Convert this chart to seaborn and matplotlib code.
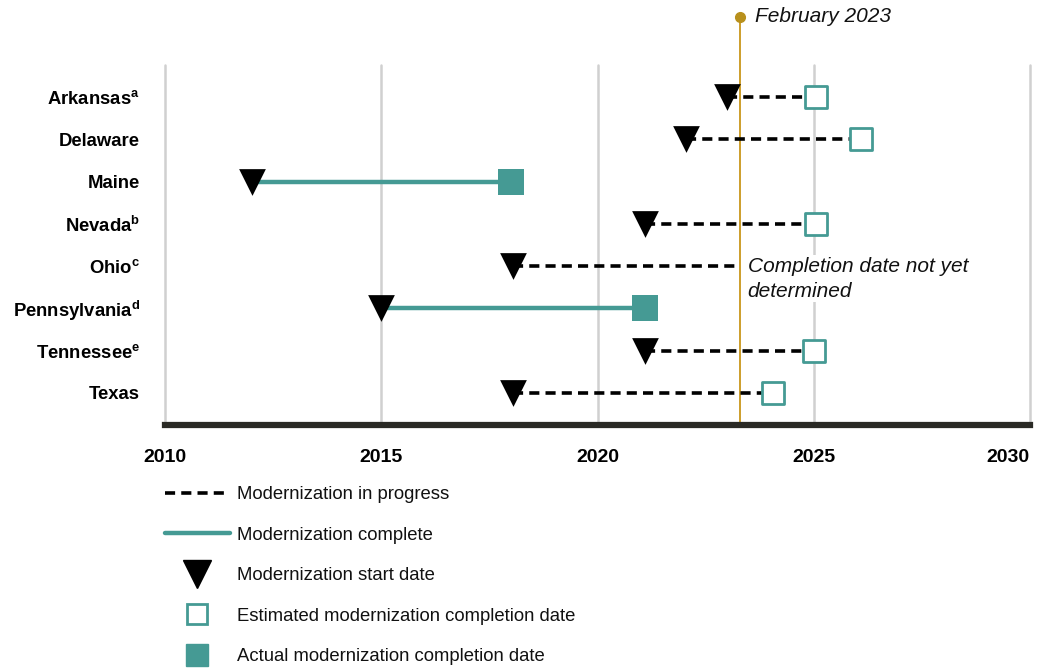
import numpy as np
import pandas as pd
import matplotlib
matplotlib.use("Agg")
import matplotlib.pyplot as plt
from matplotlib.lines import Line2D
import seaborn as sns

# data
states = ["Arkansas", "Delaware", "Maine", "Nevada", "Ohio", "Pennsylvania", "Tennessee", "Texas"]
notes = ["a", "", "", "b", "c", "d", "e", ""]
start_year = [2023.0, 2022.05, 2012.0, 2021.1, 2018.05, 2015.0, 2021.1, 2018.05]
end_year = [2025.05, 2026.1, 2018.0, 2025.05, np.nan, 2021.1, 2025.0, 2024.05]
status = ["progress", "progress", "complete", "progress", "progress", "complete", "progress", "progress"]
feb_2023 = 2023.3
year_ticks = [2010, 2015, 2020, 2025, 2030]

TEAL = "#459a94"
GOLD = "#c9961a"
GRID = "#d0d0d0"

sns.set_theme(style="white")
plt.rcParams["font.family"] = ["Liberation Sans", "DejaVu Sans"]
plt.rcParams["text.color"] = "black"
plt.rcParams["mathtext.fontset"] = "custom"
plt.rcParams["mathtext.bf"] = "Liberation Sans:bold"
plt.rcParams["mathtext.rm"] = "Liberation Sans"

df = pd.DataFrame({"state": states, "start": start_year, "end": end_year, "status": status})
df["row"] = np.arange(len(df))
# Ohio has no completion date: dashed line runs to the February 2023 line
df["line_end"] = df["end"].fillna(feb_2023)

fig = plt.figure(figsize=(10.45, 6.68), dpi=100)
ax = fig.add_axes([0.158, 0.3638, 0.8276, 0.5389])

ax.set_xlim(2010, 2030)
ax.set_ylim(len(states) - 1 + 0.76, -0.76)

for yr in year_ticks:
    ax.axvline(yr, color=GRID, lw=1.8, zorder=0, clip_on=False)

# february 2023 marker line
ax.plot([feb_2023, feb_2023], [-1.9, len(states) - 1 + 0.76], color=GOLD, lw=1.3,
        clip_on=False, zorder=1)
ax.plot([feb_2023], [-1.9], "o", color="#b8901c", ms=7, clip_on=False, zorder=2)
ax.text(feb_2023 + 0.35, -1.9, "February 2023", style="italic", fontsize=15,
        va="center", ha="left", color="#111111")

for _, r in df.iterrows():
    if r["status"] == "progress":
        ax.plot([r["start"], r["line_end"]], [r["row"], r["row"]], color="black", lw=2.6,
                dashes=(2.8, 1.7), zorder=3)
    else:
        ax.plot([r["start"], r["line_end"]], [r["row"], r["row"]], color=TEAL, lw=3.2, zorder=3)

sns.scatterplot(data=df, x="start", y="row", marker="v", s=370, color="black",
                edgecolor="black", linewidth=0, ax=ax, zorder=5, legend=False)
est = df[(df["status"] == "progress") & df["end"].notna()]
sns.scatterplot(data=est, x="end", y="row", marker="s", s=230, color="white",
                edgecolor=TEAL, linewidth=2, ax=ax, zorder=5, legend=False)
act = df[df["status"] == "complete"]
sns.scatterplot(data=act, x="end", y="row", marker="s", s=330, color=TEAL,
                edgecolor=TEAL, linewidth=0, ax=ax, zorder=5, legend=False)

ohio = df[df["state"] == "Ohio"].iloc[0]
ax.text(feb_2023 + 0.17, ohio["row"] - 0.22, "Completion date not yet\ndetermined", style="italic",
        fontsize=15, va="top", ha="left", color="#111111", linespacing=1.4,
        bbox=dict(facecolor="white", edgecolor="none", pad=1), zorder=4)

labels = [s + (r"$^\mathbf{" + n + "}$" if n else "") for s, n in zip(states, notes)]
ax.set_yticks(df["row"])
ax.set_yticklabels(labels, fontsize=13.3, fontweight="bold", color="black")
ax.set_xticks(year_ticks)
ax.set_xticklabels([str(y) for y in year_ticks], fontsize=14, fontweight="bold", color="black")
ax.get_xticklabels()[-1].set_horizontalalignment("right")
ax.get_xticklabels()[-1].set_x(2030.15)
ax.tick_params(axis="y", length=0, pad=18)
ax.tick_params(axis="x", length=0, pad=17)
ax.set_xlabel("")
ax.set_ylabel("")

for side in ["top", "right", "left"]:
    ax.spines[side].set_visible(False)
ax.spines["bottom"].set_color("#2a2a25")
ax.spines["bottom"].set_linewidth(4.5)
ax.spines["bottom"].set_zorder(6)

handles = [
    Line2D([], [], color="black", lw=2.6, dashes=(2.8, 1.7)),
    Line2D([], [], color=TEAL, lw=3.2),
    Line2D([], [], color="black", marker="v", ms=20, lw=0),
    Line2D([], [], color="white", marker="s", ms=14, mec=TEAL, mew=2, lw=0),
    Line2D([], [], color=TEAL, marker="s", ms=16, lw=0),
]
legend_labels = ["Modernization in progress", "Modernization complete",
                 "Modernization start date", "Estimated modernization completion date",
                 "Actual modernization completion date"]
fig.legend(handles, legend_labels, loc="upper left", bbox_to_anchor=(0.158, 0.272),
           frameon=False, fontsize=13.3, handlelength=3.5, handletextpad=0.4,
           labelspacing=1.27, borderaxespad=0, borderpad=0, labelcolor="#111111")

fig.savefig("out.png", dpi=100)
